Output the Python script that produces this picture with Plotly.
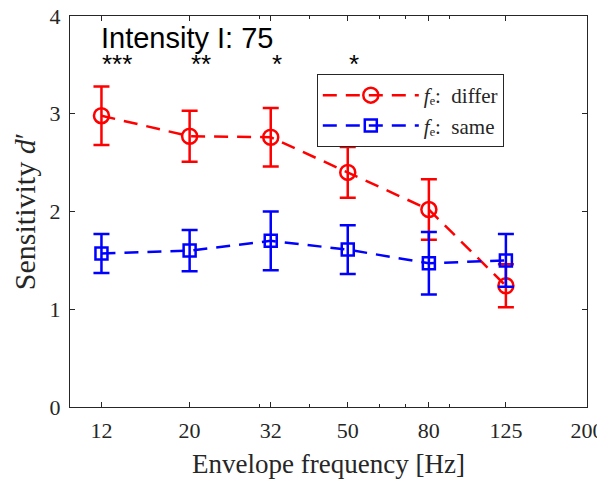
import math
import plotly.graph_objects as go

freqs = [12, 20, 32, 50, 80, 125]
tick_vals = [12, 20, 32, 50, 80, 125, 200]
tick_text = ["12", "20", "32", "50", "80", "125", "200"]

differ_mean = [2.98, 2.77, 2.76, 2.40, 2.02, 1.24]
differ_err = [0.30, 0.26, 0.30, 0.26, 0.31, 0.22]
same_mean = [1.57, 1.60, 1.70, 1.61, 1.47, 1.50]
same_err = [0.20, 0.21, 0.30, 0.25, 0.32, 0.27]

stars = ["***", "**", "*", "*"]
star_freqs = [12, 20, 32, 50]

serif = "Liberation Serif"
sans = "Liberation Sans"
axis_color = "#262626"

# page body has an 8px margin; compensate so the plot area lands where the reference has it
OFF = 8
W, H = 605 - OFF, 479 - OFF

fig = go.Figure()
fig.add_trace(go.Scatter(
    x=freqs, y=differ_mean, mode="lines+markers",
    name="<i>f</i>ₑ:  differ",
    line=dict(color="#ff0000", width=2.5, dash="14px,9px"),
    marker=dict(symbol="circle-open", size=15, color="#ff0000", line=dict(width=2.5, color="#ff0000")),
    error_y=dict(type="data", array=differ_err, visible=True, color="#ff0000", thickness=2.5, width=8),
))
fig.add_trace(go.Scatter(
    x=freqs, y=same_mean, mode="lines+markers",
    name="<i>f</i>ₑ:  same",
    line=dict(color="#0000ff", width=2.5, dash="14px,9px"),
    marker=dict(symbol="square-open", size=12, color="#0000ff", line=dict(width=2.5, color="#0000ff")),
    error_y=dict(type="data", array=same_err, visible=True, color="#0000ff", thickness=2.5, width=8),
))

for f, s in zip(star_freqs, stars):
    fig.add_annotation(x=math.log10(f), y=3.51, xref="x", yref="y", text=s, showarrow=False,
                       xanchor="left", yanchor="middle", xshift=-1,
                       font=dict(family=sans, size=26, color="black"))

fig.add_annotation(x=(187.5 - 69.7) / 517.0, y=3.78, xref="paper", yref="y",
                   text="Intensity I: 75", showarrow=False,
                   xanchor="center", yanchor="middle",
                   font=dict(family=sans, size=29, color="black"))

fig.update_layout(
    width=W, height=H,
    margin=dict(l=70 - OFF, r=18, t=16 - OFF, b=72, autoexpand=False),
    paper_bgcolor="white", plot_bgcolor="white",
    showlegend=True,
    legend=dict(x=(316.5 - 69.7) / 517.0, y=(407.3 - 74.3) / 391.0, xanchor="left", yanchor="top",
                bordercolor=axis_color, borderwidth=1, bgcolor="white",
                font=dict(family=serif, size=21, color=axis_color),
                itemwidth=96, tracegroupgap=0),
    xaxis=dict(type="log", range=[1.0, math.log10(200)], automargin=False,
               tickmode="array", tickvals=tick_vals, ticktext=tick_text,
               ticks="inside", ticklen=5, tickcolor=axis_color, tickwidth=1,
               showline=True, linecolor=axis_color, linewidth=1, mirror="ticks",
               showgrid=False, zeroline=False, ticklabelstandoff=4, ticklabeloverflow="allow",
               minor=dict(tickvals=[30, 40, 60, 70, 90], ticks="inside", ticklen=3,
                          tickcolor=axis_color, showgrid=False),
               tickfont=dict(family=serif, size=22, color=axis_color),
               title=dict(text="Envelope frequency [Hz]", font=dict(family=serif, size=27, color=axis_color), standoff=11)),
    yaxis=dict(range=[0, 4], tickvals=[0, 1, 2, 3, 4], automargin=False,
               ticks="inside", ticklen=5, tickcolor=axis_color, tickwidth=1,
               showline=True, linecolor=axis_color, linewidth=1, mirror="ticks",
               showgrid=False, zeroline=False, ticklabelstandoff=4, ticklabeloverflow="allow",
               tickfont=dict(family=serif, size=22, color=axis_color),
               title=dict(text="Sensitivity <i>d</i>′", font=dict(family=serif, size=30, color=axis_color), standoff=9)),
)

fig.write_html("out.html")
